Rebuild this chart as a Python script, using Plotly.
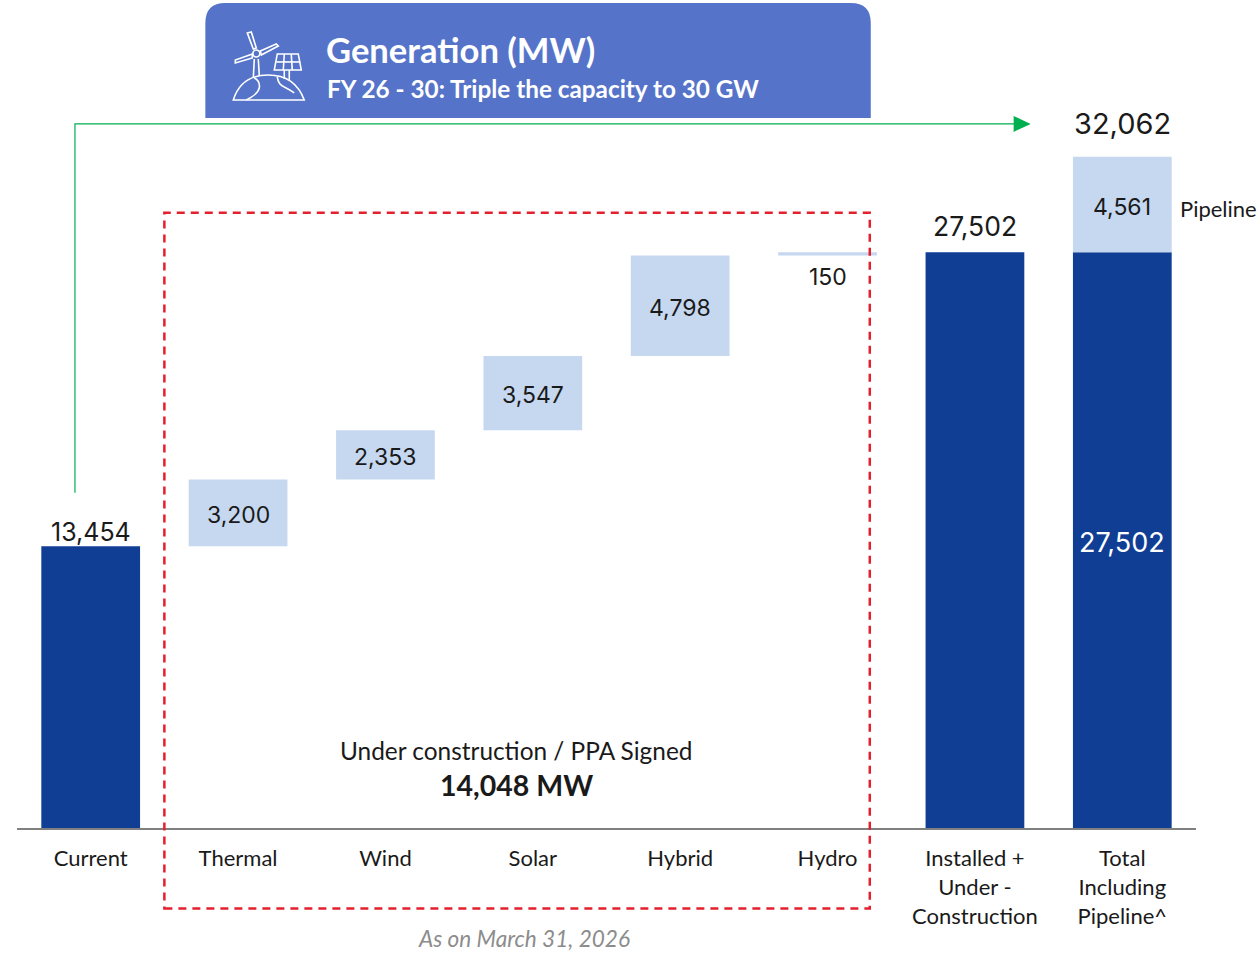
import plotly.graph_objects as go

# ---- data ----
categories = ["Current", "Thermal", "Wind", "Solar", "Hybrid", "Hydro",
              "Installed +<br>Under -<br>Construction", "Total<br>Including<br>Pipeline^"]
current_mw = 13454
step_categories = ["Thermal", "Wind", "Solar", "Hybrid", "Hydro"]
step_values = [3200, 2353, 3547, 4798, 150]
installed_uc_mw = 27502
pipeline_mw = 4561
total_mw = 32062

DARK = "#103E94"
LIGHT = "#C6D8F0"
NUM_FONT = "Inter"
TXT_FONT = "Lato"
W, H = 1260, 953
L, R, B = 16.5, 1196.5, 828.5     # plot-area pixel edges


def px(x):
    return (x - L) / (R - L)


def py(y):
    return (B - y) / B


def path(points, close=False):
    s = "M" + " L".join(f"{px(a):.5f},{py(b):.5f}" for a, b in points)
    return s + (" Z" if close else "")


def curve(d):
    """Small path helper: list of (cmd, pts) in pixel coordinates."""
    out = []
    for cmd, pts in d:
        out.append(cmd + " ".join(f"{px(a):.5f},{py(b):.5f}" for a, b in pts))
    return " ".join(out)


# ---- waterfall bases ----
bases, running = [], current_mw
for v in step_values:
    bases.append(running)
    running += v

fig = go.Figure()
fig.add_bar(x=["Current", categories[6], categories[7]],
            y=[current_mw, installed_uc_mw, installed_uc_mw],
            marker=dict(color=DARK, line_width=0), width=0.67,
            cliponaxis=False, showlegend=False)
fig.add_bar(x=step_categories + [categories[7]],
            y=step_values + [pipeline_mw],
            base=bases + [installed_uc_mw],
            marker=dict(color=LIGHT, line_width=0), width=0.67,
            cliponaxis=False, showlegend=False)

shapes = []
# header panel with rounded top corners
shapes.append(dict(type="path", xref="paper", yref="paper", layer="below",
                   path=curve([("M", [(205, 118)]), ("L", [(205, 23)]),
                               ("Q", [(205, 3), (225, 3)]), ("L", [(851, 3)]),
                               ("Q", [(871, 3), (871, 23)]), ("L", [(871, 118)]), ("Z", [])]),
                   fillcolor="#5574C9", line_width=0))
# green connector
shapes.append(dict(type="path", xref="paper", yref="paper",
                   path=path([(74.5, 493), (74.5, 124), (1016, 124)]),
                   line=dict(color="#00B050", width=1.2)))
shapes.append(dict(type="path", xref="paper", yref="paper",
                   path=path([(1014, 116), (1031, 124), (1014, 132)], True),
                   fillcolor="#00B050", line_width=0))
# dashed box
shapes.append(dict(type="rect", xref="paper", yref="paper",
                   x0=px(164), x1=px(870), y0=py(909), y1=py(213),
                   line=dict(color="#E3202E", width=2.5, dash="8px,6px")))

# icon (decoration drawn in white outline)
ic = dict(color="white", width=1.6)
icon_paths = [
    [(247, 33), (251, 32), (256, 48), (253, 49)],      # blade up
    [(260, 51), (276, 44), (278, 46), (261, 55)],      # blade right
    [(252, 54), (235, 60), (235, 63), (252, 58)],      # blade left
    [(277, 54), (298, 54), (301, 70), (274, 70)],      # panel
]
for p in icon_paths:
    shapes.append(dict(type="path", xref="paper", yref="paper", path=path(p, True), line=ic))
for p in [[(254, 59), (253, 78)], [(258, 59), (259, 76)],
          [(276, 62), (300, 62)], [(284, 54), (283, 70)], [(291, 54), (292, 70)],
          [(284, 70), (284, 79)], [(289, 70), (289, 81)]]:
    shapes.append(dict(type="path", xref="paper", yref="paper", path=path(p), line=ic))
shapes.append(dict(type="circle", xref="paper", yref="paper",
                   x0=px(252.5), x1=px(259.5), y0=py(57), y1=py(50), line=ic))
shapes.append(dict(type="path", xref="paper", yref="paper", line=ic,
                   path=curve([("M", [(233, 100)]), ("C", [(238, 84), (250, 75), (268, 75)]),
                               ("C", [(286, 75), (298, 84), (304, 100)]), ("Z", [])])))
shapes.append(dict(type="path", xref="paper", yref="paper", line=ic,
                   path=curve([("M", [(246, 100)]), ("Q", [(258, 94), (259, 88)]),
                               ("Q", [(260, 81), (254, 78)])])))
shapes.append(dict(type="path", xref="paper", yref="paper", line=ic,
                   path=curve([("M", [(277, 77)]), ("Q", [(278, 85), (284, 87)]),
                               ("Q", [(290, 90), (294, 93)])])))


def note(text, x, y, size, family=TXT_FONT, color="#1a1a1a", bold=False, italic=False, anchor="center"):
    if bold:
        text = f"<b>{text}</b>"
    if italic:
        text = f"<i>{text}</i>"
    return dict(text=text, xref="paper", yref="paper", x=px(x), y=py(y), showarrow=False,
                xanchor=anchor, yanchor="middle",
                font=dict(family=family, size=size, color=color))


def over(cat, value, label, shift, size):
    return dict(text=label, x=cat, y=value, xref="x", yref="y", showarrow=False,
                xanchor="center", yanchor="bottom", yshift=shift,
                font=dict(family=NUM_FONT, size=size, color="#1a1a1a"))


def inside(cat, mid, label, size, color="#1a1a1a"):
    return dict(text=label, x=cat, y=mid, xref="x", yref="y", showarrow=False,
                xanchor="center", yanchor="middle", yshift=-2,
                font=dict(family=NUM_FONT, size=size, color=color))


annotations = [
    note("Generation (MW)", 324, 50, 34.6, color="white", bold=True, anchor="left"),
    note("FY 26 - 30: Triple the capacity to 30 GW", 324.5, 88.5, 24.3, color="white", bold=True, anchor="left"),
    note("Under construction / PPA Signed", 516, 750.5, 24.4),
    note(f"{sum(step_values):,} MW", 516.5, 785.5, 28.5, bold=True),
    note("As on March 31, 2026", 524, 939.5, 22.6, color="#8c8c8c", italic=True),
    note("Pipeline", 1178.5, 209, 22, anchor="left"),
    over("Current", current_mw, f"{current_mw:,}", -3, 25),
    over(categories[6], installed_uc_mw, f"{installed_uc_mw:,}", 8, 26.5),
    over(categories[7], total_mw, f"{total_mw:,}", 14, 29),
    dict(text=f"{step_values[4]:,}", x="Hydro", y=bases[4], xref="x", yref="y", showarrow=False,
         xanchor="center", yanchor="top", yshift=-6,
         font=dict(family=NUM_FONT, size=23, color="#1a1a1a")),
    inside(categories[7], installed_uc_mw / 2, f"{installed_uc_mw:,}", 27, "white"),
    inside(categories[7], installed_uc_mw + pipeline_mw / 2, f"{pipeline_mw:,}", 23),
]
for c, b, v in zip(step_categories[:4], bases, step_values):
    annotations.append(inside(c, b + v / 2, f"{v:,}", 23))

fig.update_layout(
    width=W, height=H, autosize=False, barmode="overlay",
    margin=dict(l=L, r=W - R, t=0, b=H - B, pad=0),
    plot_bgcolor="white", paper_bgcolor="white",
    shapes=shapes, annotations=annotations,
    xaxis=dict(type="category", categoryorder="array", categoryarray=categories,
               range=[-0.5, 7.5], showgrid=False, zeroline=False, showline=True,
               linecolor="#808080", linewidth=2, ticks="", ticklen=0, ticklabelstandoff=10,
               tickfont=dict(family=TXT_FONT, size=22, color="#1a1a1a"), tickangle=0),
    yaxis=dict(range=[0, 828.5 / (281.8 / current_mw)], visible=False, fixedrange=True),
)

fig.write_html("out.html", config={"displayModeBar": False},
               post_script="document.body.style.margin='0';")
